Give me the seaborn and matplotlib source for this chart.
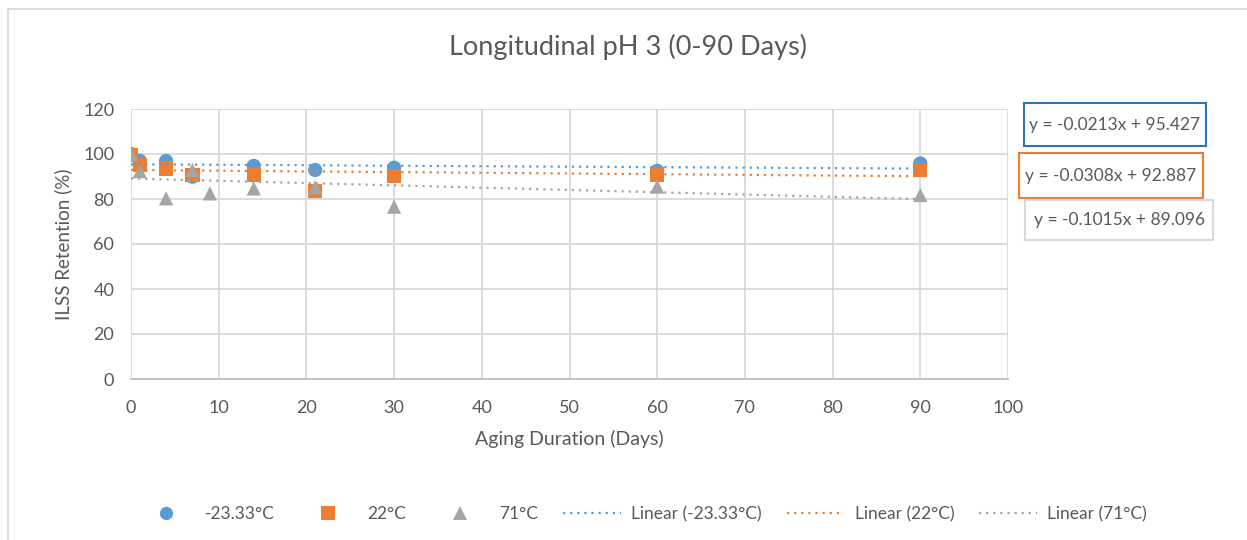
import numpy as np
import pandas as pd
import matplotlib
matplotlib.use("Agg")
import matplotlib.pyplot as plt
import seaborn as sns
from matplotlib.lines import Line2D
from matplotlib.patches import Rectangle

# ---------------- data ----------------
series_names = ["-23.33°C", "22°C", "71°C"]

days_cold = [0, 1, 4, 7, 14, 21, 30, 60, 90]
ilss_cold = [100, 97, 96.9, 89.9, 94.7, 92.9, 93.9, 92.5, 95.8]

days_room = [0, 1, 4, 7, 14, 21, 30, 60, 90]
ilss_room = [99.6, 95.1, 93.6, 90.7, 90.7, 83.6, 90.2, 90.9, 92.8]

days_hot = [0, 1, 4, 7, 9, 14, 21, 30, 60, 90]
ilss_hot = [100, 92.4, 80.3, 92.9, 82.5, 84.7, 85.2, 76.6, 85.5, 81.8]

trend_slopes = [-0.0213, -0.0308, -0.1015]
trend_intercepts = [95.427, 92.887, 89.096]
trend_labels = ["y = -0.0213x + 95.427", "y = -0.0308x + 92.887", "y = -0.1015x + 89.096"]

x_ticks = [0, 10, 20, 30, 40, 50, 60, 70, 80, 90, 100]
y_ticks = [0, 20, 40, 60, 80, 100, 120]

title = "Longitudinal pH 3 (0-90 Days)"
x_label = "Aging Duration (Days)"
y_label = "ILSS Retention (%)"

# ---------------- style ----------------
colors = ["#5B9BD5", "#ED7D31", "#A5A5A5"]
box_edges = ["#2E75B6", "#ED7D31", "#D9D9D9"]
marker_shapes = ["o", "s", "^"]
text_col = "#595959"

sns.set_theme(style="white")
plt.rcParams["font.family"] = ["Lato", "DejaVu Sans"]

df = pd.concat([
    pd.DataFrame({"day": days_cold, "ilss": ilss_cold, "series": series_names[0]}),
    pd.DataFrame({"day": days_room, "ilss": ilss_room, "series": series_names[1]}),
    pd.DataFrame({"day": days_hot, "ilss": ilss_hot, "series": series_names[2]}),
], ignore_index=True)

fig = plt.figure(figsize=(12.47, 5.40), dpi=100)
ax = fig.add_axes([131 / 1247, 1 - 379 / 540, 877 / 1247, 270 / 540])

sns.scatterplot(data=df, x="day", y="ilss", hue="series", style="series",
                hue_order=series_names, style_order=series_names,
                palette=dict(zip(series_names, colors)),
                markers=dict(zip(series_names, marker_shapes)),
                s=105, edgecolor="none", linewidth=0, legend=False, ax=ax, zorder=3)

xs = np.array([min(days_cold), max(days_cold)], dtype=float)
for m, b, c in zip(trend_slopes, trend_intercepts, colors):
    ax.plot(xs, m * xs + b, color=c, lw=1.6, linestyle=(0, (1, 2.2)), zorder=4)

ax.set_xlim(0, 100)
ax.set_ylim(0, 120)
ax.set_xticks(x_ticks)
ax.set_yticks(y_ticks)
ax.grid(True, color="#D9D9D9", lw=1.3)
ax.set_axisbelow(True)
for s in ["top", "right", "left"]:
    ax.spines[s].set_visible(False)
ax.spines["bottom"].set_color("#BFBFBF")
ax.spines["bottom"].set_linewidth(1.3)
ax.tick_params(axis="x", length=0, pad=15, labelsize=13, labelcolor=text_col)
ax.tick_params(axis="y", length=0, pad=12, labelsize=13, labelcolor=text_col)
ax.set_xlabel(x_label, fontsize=14, color=text_col, labelpad=10)
ax.set_ylabel(y_label, fontsize=13.5, color=text_col, labelpad=8)

fig.text(628 / 1247, 1 - 47 / 540, title, ha="center", va="center", fontsize=19.5, color=text_col)

# equation boxes
boxes = [(1024, 103, 1206, 146), (1019, 153, 1203, 198), (1025, 200, 1213, 240)]
for (x0, y0, x1, y1), ec, lab in zip(boxes, box_edges, trend_labels):
    fig.patches.append(Rectangle((x0 / 1247, 1 - y1 / 540), (x1 - x0) / 1247, (y1 - y0) / 540,
                                 transform=fig.transFigure, fill=False, edgecolor=ec, lw=1.5))
    fig.text((x0 + x1) / 2 / 1247, 1 - (y0 + y1) / 2 / 540, lab, ha="center", va="center",
             fontsize=12.5, color=text_col)

# outer chart border (left / top)
fig.add_artist(Line2D([8 / 1247, 8 / 1247], [0, 1 - 9 / 540], transform=fig.transFigure, color="#D9D9D9", lw=1.3))
fig.add_artist(Line2D([8 / 1247, 1], [1 - 9 / 540, 1 - 9 / 540], transform=fig.transFigure, color="#D9D9D9", lw=1.3))

# legend
handles = []
for c, mk in zip(colors, marker_shapes):
    handles.append(Line2D([], [], linestyle="none", marker=mk, color=c, markersize=9.5, markeredgewidth=0))
for c in colors:
    handles.append(Line2D([], [], color=c, lw=1.6, linestyle=(0, (1, 2.2))))
labels = series_names + [f"Linear ({n})" for n in series_names]
leg = fig.legend(handles, labels, loc="center", bbox_to_anchor=(642 / 1247, 1 - 514 / 540), ncol=6,
                 frameon=False, fontsize=12.5, handlelength=3.3, handletextpad=0.6, columnspacing=1.45)
for t in leg.get_texts():
    t.set_color(text_col)

fig.savefig("out.png", dpi=100, facecolor="white")
